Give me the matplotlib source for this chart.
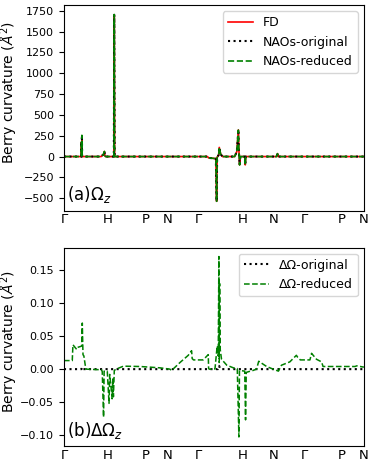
import matplotlib
matplotlib.use("Agg")
import matplotlib.pyplot as plt

# k-path (bcc): cumulative distances of high-symmetry points
kpt_labels = ["Γ", "H", "P", "N", "Γ", "H", "N", "Γ", "P", "N"]
kpt_pos = [0.0, 1.0, 1.866, 2.366, 3.073, 4.073, 4.780, 5.487, 6.353, 6.853]

# (a) Berry curvature Omega_z (Å^2)
k_top = [0.0, 0.395, 0.400, 0.405, 0.410, 0.416, 0.85, 0.90, 0.925, 0.935, 0.95,
         1.140, 1.149, 1.158, 3.28, 3.30, 3.47, 3.488, 3.50, 3.535, 3.548, 3.58,
         3.62, 3.90, 3.95, 3.985, 3.995, 4.013, 4.03, 4.13, 4.142, 4.155, 4.86,
         4.88, 4.90, 6.853]
omega_fd = [0, 0, 175, 20, 250, 0, 0, 25, 60, 10, 0,
            0, 1700, 0, 0, -15, -25, -537, -10, 20, 110, 30,
            0, 0, 60, 320, 100, -100, 0, 0, -100, 0, 0,
            35, 0, 0]
omega_naos_orig = [0, 0, 175, 20, 250, 0, 0, 25, 60, 10, 0,
                   0, 1700, 0, 0, -15, -25, -537, -10, 20, 110, 30,
                   0, 0, 60, 320, 100, -100, 0, 0, -100, 0, 0,
                   35, 0, 0]
omega_naos_red = [0, 0, 175, 20, 255, 0, 0, 25, 62, 10, 0,
                  0, 1706, 0, 0, -15, -25, -537, -10, 20, 112, 30,
                  0, 0, 60, 318, 100, -102, 0, 0, -100, 0, 0,
                  35, 0, 0]

# (b) Delta Omega_z (Å^2)
k_bot = [0.0, 0.19, 0.205, 0.29, 0.31, 0.405, 0.419, 0.435, 0.455, 0.50,
         0.86, 0.875, 0.905, 0.918, 0.99, 1.03, 1.045, 1.08, 1.10, 1.115,
         1.13, 1.15, 1.19, 1.36, 1.74, 2.19, 2.42, 2.46, 2.65, 2.84,
         2.916, 2.93, 2.96, 3.18, 3.297, 3.305, 3.32, 3.45, 3.50, 3.525,
         3.54, 3.548, 3.556, 3.57, 3.60, 3.72, 3.87, 3.96, 3.997, 4.01,
         4.13, 4.149, 4.165, 4.21, 4.32, 4.40, 4.45, 4.63, 4.78, 4.90,
         4.97, 5.16, 5.31, 5.34, 5.40, 5.62, 5.657, 5.77, 5.886, 5.92,
         6.65, 6.69, 6.853]
domega_red = [0.013, 0.013, 0.037, 0.030, 0.033, 0.035, 0.070, 0.022, 0.020, 0.0,
              -0.001, -0.004, -0.073, -0.003, -0.003, -0.052, -0.008, -0.030, -0.045, -0.015,
              -0.042, -0.002, 0.0, 0.0045, 0.004, 0.002, 0.0, -0.002, 0.010, 0.021,
              0.028, 0.016, 0.014, 0.014, 0.022, 0.001, 0.0, 0.0, 0.035, 0.020,
              0.171, 0.010, 0.130, 0.030, 0.015, 0.006, 0.002, 0.001, -0.103, -0.002,
              -0.003, -0.077, -0.005, -0.004, -0.002, 0.0, 0.012, 0.004, 0.0, -0.003,
              0.006, 0.011, 0.021, 0.018, 0.014, 0.014, 0.024, 0.015, 0.011, 0.004,
              0.004, 0.005, 0.003]
k_bot_orig = [0.0, 0.40, 0.419, 0.44, 3.52, 3.545, 3.57, 6.853]
domega_orig = [0.0, 0.0, 0.003, 0.0, 0.0, 0.005, 0.0, 0.0]

fig = plt.figure(figsize=(3.74, 4.67), dpi=100)
ax1 = fig.add_axes([0.171, 0.549, 0.802, 0.440])
ax2 = fig.add_axes([0.171, 0.045, 0.802, 0.425])

ax1.plot(k_top, omega_fd, color="red", lw=1.2, label="FD")
ax1.plot(k_top, omega_naos_orig, color="black", ls=":", lw=1.5, label="NAOs-original")
ax1.plot(k_top, omega_naos_red, color="green", ls="--", lw=1.2, label="NAOs-reduced")

ax2.plot(k_bot_orig, domega_orig, color="black", ls=":", lw=1.5, label="ΔΩ-original")
ax2.plot(k_bot, domega_red, color="green", ls="--", lw=1.1, label="ΔΩ-reduced")

for ax, lab, ly in [(ax1, r"(a)$\Omega_z$", 0.575), (ax2, r"(b)$\Delta\Omega_z$", 0.526)]:
    ax.set_xlim(kpt_pos[0], kpt_pos[-1])
    ax.set_xticks(kpt_pos)
    ax.set_xticklabels(kpt_labels)
    ax.tick_params(axis="x", length=0, pad=2, labelsize=9.5)
    ax.tick_params(axis="y", labelsize=8)
    ax.set_ylabel(r"Berry curvature ($\AA^2$)", fontsize=10)
    ax.yaxis.set_label_coords(-0.145, ly)
    ax.legend(loc="upper right", fontsize=9)
    ax.text(0.01, 0.025, lab, transform=ax.transAxes, fontsize=12, ha="left", va="bottom")

ax1.set_yticks([-500, -250, 0, 250, 500, 750, 1000, 1250, 1500, 1750])
ax2.set_yticks([-0.10, -0.05, 0.0, 0.05, 0.10, 0.15])
ax2.set_yticklabels(["−0.10", "−0.05", "0.00", "0.05", "0.10", "0.15"])

fig.savefig("out.png", dpi=100)
